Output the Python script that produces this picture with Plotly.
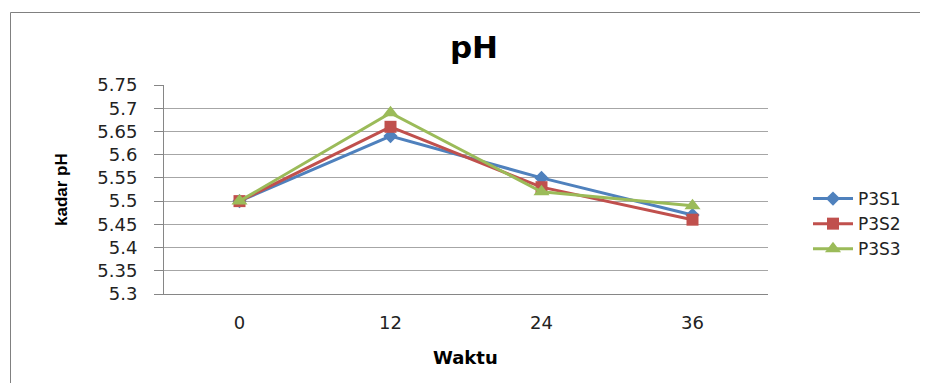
import plotly.graph_objects as go

waktu = ["0", "12", "24", "36"]
p3s1 = [5.50, 5.64, 5.55, 5.47]
p3s2 = [5.50, 5.66, 5.53, 5.46]
p3s3 = [5.50, 5.69, 5.52, 5.49]
y_ticks = [5.3, 5.35, 5.4, 5.45, 5.5, 5.55, 5.6, 5.65, 5.7, 5.75]
y_labels = ["5.3", "5.35", "5.4", "5.45", "5.5", "5.55", "5.6", "5.65", "5.7", "5.75"]

series = [
    ("P3S1", p3s1, "#4F81BD", "diamond", 11),
    ("P3S2", p3s2, "#C0504D", "square", 12),
    ("P3S3", p3s3, "#9BBB59", "triangle-up", 14),
]

fig = go.Figure()
for name, vals, col, sym, sz in series:
    fig.add_trace(go.Scatter(
        x=list(range(len(waktu))), y=vals, name=name, mode="lines+markers",
        line=dict(color=col, width=3),
        marker=dict(symbol=sym, size=sz, color=col),
    ))

OFF = 8  # page body margin
W, H = 928 - OFF, 383 - OFF
L, T = 164 - OFF, 85 - OFF
R = W - (768 - OFF)
B = H - (294 - OFF)
pw, ph = W - L - R, H - T - B

def px2x(px):
    return (px - OFF - L) / pw

def px2y(py):
    return (H - B - (py - OFF)) / ph

fig.update_layout(
    width=W, height=H,
    margin=dict(l=L, r=R, t=T, b=B),
    paper_bgcolor="white", plot_bgcolor="white",
    font=dict(family="DejaVu Sans", size=15, color="#222"),
    title=dict(text="<b>pH</b>", x=(474 - OFF) / W, xanchor="center",
               y=1 - (47 - OFF) / H, yanchor="middle",
               font=dict(family="DejaVu Sans", size=31, color="black")),
    showlegend=True,
    legend=dict(x=px2x(808), xanchor="left", y=px2y(224), yanchor="middle",
                font=dict(family="DejaVu Sans", size=17, color="#222"),
                itemwidth=40, tracegroupgap=6, bgcolor="rgba(0,0,0,0)"),
    xaxis=dict(
        tickmode="array", tickvals=list(range(len(waktu))), ticktext=waktu,
        range=[-0.5, 3.5], showgrid=False, zeroline=False,
        showline=True, linecolor="#868686", linewidth=1,
        ticks="", ticklabelstandoff=12,
        tickfont=dict(family="DejaVu Sans", size=18, color="#222"),
    ),
    yaxis=dict(
        tickmode="array", tickvals=y_ticks, ticktext=y_labels,
        range=[5.3, 5.75], showgrid=True, gridcolor="#A6A6A6", gridwidth=1,
        zeroline=False, showline=True, linecolor="#868686", linewidth=1,
        ticks="outside", ticklen=9, tickcolor="#868686", ticklabelstandoff=13,
        tickfont=dict(family="DejaVu Sans", size=18, color="#222"),
    ),
)

fig.add_annotation(text="<b>kadar pH</b>", xref="paper", yref="paper",
                   x=px2x(61), y=px2y(190), xanchor="center", yanchor="middle",
                   textangle=-90, showarrow=False,
                   font=dict(family="Liberation Sans Narrow, Liberation Sans", size=17, color="black"))
fig.add_annotation(text="<b>Waktu</b>", xref="paper", yref="paper",
                   x=px2x(465), y=px2y(357), xanchor="center", yanchor="middle",
                   showarrow=False,
                   font=dict(family="DejaVu Sans", size=18, color="black"))

fig.add_shape(type="rect", xref="paper", yref="paper",
              x0=px2x(10.5), x1=px2x(940), y0=px2y(400), y1=px2y(12.5),
              line=dict(color="#808080", width=1), fillcolor="rgba(0,0,0,0)", layer="below")

fig.write_html("out.html")
